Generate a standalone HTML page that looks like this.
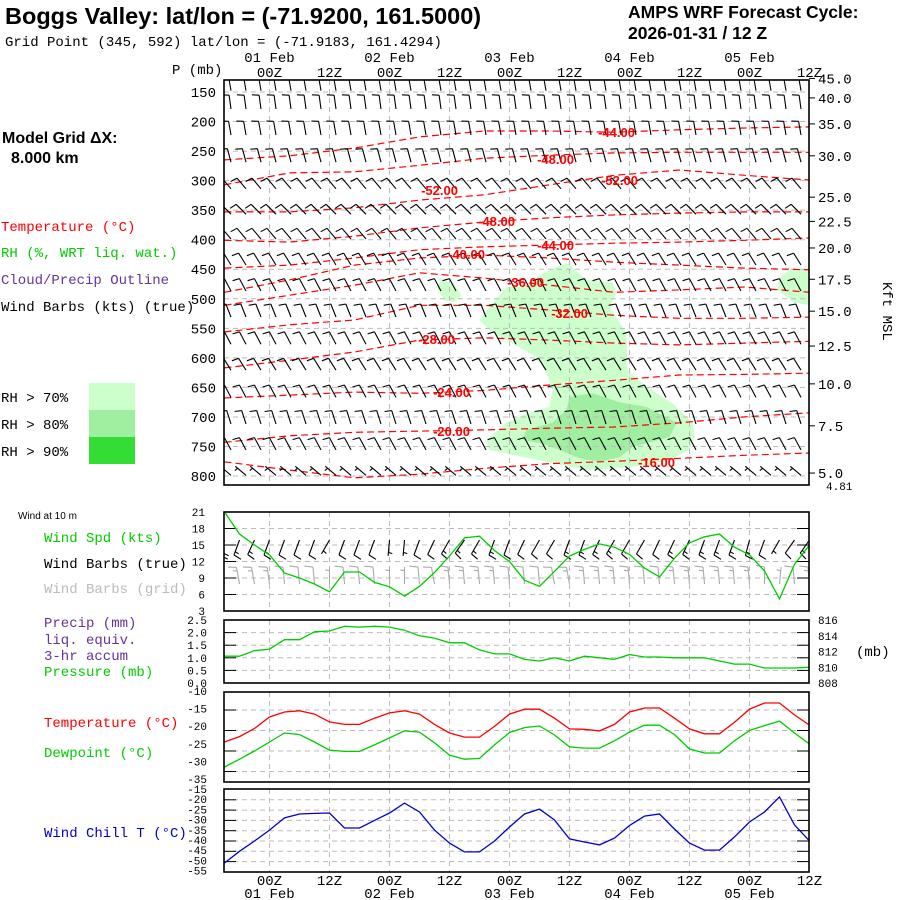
<!DOCTYPE html>
<html><head><meta charset="utf-8"><title>Boggs Valley AMPS WRF forecast meteogram</title>
<style>
html,body{margin:0;padding:0;background:#fff;}
svg{display:block;}
.m{font-family:"Liberation Mono","DejaVu Sans Mono",monospace;font-size:14px;}
.s{font-family:"Liberation Mono","DejaVu Sans Mono",monospace;font-size:11px;}
.b{font-family:"Liberation Sans",Arial,sans-serif;font-weight:bold;}
</style></head>
<body>
<svg id="chart" xmlns="http://www.w3.org/2000/svg" width="900" height="900" viewBox="0 0 900 900">
<rect x="0" y="0" width="900" height="900" fill="#fff"/>
<text x="5" y="24" class="b" font-size="23.5">Boggs Valley:  lat/lon = (-71.9200, 161.5000)</text>
<text x="5" y="46" class="m">Grid Point (345, 592) lat/lon = (-71.9183, 161.4294)</text>
<text x="628" y="18" class="b" font-size="17.5">AMPS WRF Forecast Cycle:</text>
<text x="628" y="39" class="b" font-size="17.5">2026-01-31 / 12  Z</text>
<text x="172" y="74" class="m">P (mb)</text>
<text x="2" y="143" class="b" font-size="16">Model Grid ΔX:</text>
<text x="11" y="163" class="b" font-size="16">8.000 km</text>
<text x="1" y="231" class="m" fill="#ff0000">Temperature (°C)</text>
<text x="1" y="257" class="m" fill="#00cc00">RH (%, WRT liq. wat.)</text>
<text x="1" y="284" class="m" fill="#663399">Cloud/Precip Outline</text>
<text x="1" y="311" class="m" fill="#000">Wind Barbs (kts) (true)</text>
<text x="1" y="402" class="m">RH &gt; 70%</text>
<text x="1" y="429" class="m">RH &gt; 80%</text>
<text x="1" y="456" class="m">RH &gt; 90%</text>
<rect x="89" y="383" width="46" height="27" fill="#ccffcc"/>
<rect x="89" y="410" width="46" height="27" fill="#a0eea0"/>
<rect x="89" y="437" width="46" height="27" fill="#33dd33"/>
<text x="18" y="519" font-family="Liberation Sans,sans-serif" font-size="10">Wind at 10 m</text>
<text x="44" y="542" class="m" fill="#00cc00">Wind Spd (kts)</text>
<text x="44" y="568" class="m">Wind Barbs (true)</text>
<text x="44" y="593" class="m" fill="#bbbbbb">Wind Barbs (grid)</text>
<text x="44" y="627" class="m" fill="#663399">Precip (mm)</text>
<text x="44" y="644" class="m" fill="#663399">liq. equiv.</text>
<text x="44" y="660" class="m" fill="#663399">3-hr accum</text>
<text x="44" y="676" class="m" fill="#00cc00">Pressure (mb)</text>
<text x="856" y="656" class="m">(mb)</text>
<text x="44" y="727" class="m" fill="#ff0000">Temperature (°C)</text>
<text x="44" y="757" class="m" fill="#00cc00">Dewpoint (°C)</text>
<text x="44" y="837" class="m" fill="#0000cc">Wind Chill T (°C)</text>
<text x="883" y="282" class="m" font-size="12" transform="rotate(90 883 282)">Kft MSL</text>
<defs><clipPath id="mainclip"><rect x="224" y="80" width="585" height="405"/></clipPath>
<clipPath id="lowclip"><rect x="224" y="500" width="585" height="390"/></clipPath></defs>
<g id="layer"></g>
</svg>
<script>
// ---------- data ----------
const hours = [0,3,6,9,12,15,18,21,24,27,30,33,36,39,42,45,48,51,54,57,60,63,66,69,72,75,78,81,84,87,90,93,96,99,102,105,108,111,114,117];
const windSpd = [21,17,15,13.2,9.9,9.0,7.9,6.5,10.1,10.1,8.2,7.4,5.7,7.5,10,13,16.3,16.6,14,12,8.6,7.5,10.2,13,14.2,15.2,14.6,13.3,10.8,9.2,12.6,15.4,16.5,17,14.6,13.2,10.3,5.2,11.5,15];
const sfcPres = [811.4,811.4,812.1,812.3,813.5,813.5,814.5,814.6,815.2,815.1,815.2,815.1,814.7,814,813.7,813.1,813.1,812.2,811.7,811.7,811,810.8,811.2,810.8,811.4,811.2,811,811.6,811.3,811.3,811.2,811.2,811.2,810.8,810.4,810.4,809.9,809.9,809.9,810];
const sfcTemp = [-22.8,-21.5,-19.5,-16.7,-15.5,-15.2,-16,-17.9,-18.5,-18.5,-17,-15.7,-15.2,-16,-18.5,-20.6,-21.6,-21.6,-19,-16,-14.8,-14.8,-17,-19.6,-19.7,-20.1,-18.5,-15.5,-14.5,-14.5,-17,-19.6,-20.8,-20.8,-18,-14.8,-13.3,-13.3,-16.2,-18.7];
const sfcDew = [-28.9,-27,-25,-22.8,-20.6,-21,-22.8,-24.8,-25.1,-25.1,-23.5,-21.8,-20.1,-20.4,-23,-26,-27,-26.8,-23.5,-20.5,-19.3,-18.9,-21.1,-24,-24.3,-24.3,-22.5,-20.4,-18.7,-18.7,-21,-24.5,-25.5,-25.5,-22.5,-20,-18.8,-17.7,-20.6,-23.3];
const windChill = [-50.7,-45,-40,-34.7,-28.8,-26.9,-26.6,-26.4,-33.7,-33.7,-30,-26.4,-21.6,-25.9,-34.7,-41,-45.3,-45.3,-40,-33.2,-26.9,-24.5,-29.8,-39,-40.5,-41.9,-38.6,-32.5,-27.9,-26.9,-34.2,-41,-44.4,-44.4,-38,-30.8,-25.9,-18.6,-32.2,-40];
const sfcDirTrue = [195,200,205,200,200,200,200,210,200,200,200,185,185,200,205,210,215,210,200,200,205,210,210,200,200,205,210,210,210,205,205,205,200,200,200,195,200,210,215,215];
const sfcDirGrid = [355,350,350,352,355,355,355,0,355,355,355,0,0,355,350,355,355,355,355,355,355,355,350,350,355,355,355,355,355,355,355,355,355,355,355,355,0,5,355,355];

const pTicks = [150,200,250,300,350,400,450,500,550,600,650,700,750,800];
const kftLabels = ["45.0","40.0","35.0","30.0","25.0","22.5","20.0","17.5","15.0","12.5","10.0","7.5","5.0"];
const kftPres = [127,160,204,258,328,369,414,467,521,580,644,715,795];
const dayLabels = ["01 Feb","02 Feb","03 Feb","04 Feb","05 Feb"];
const dayHours = [9,33,57,81,105];
const zHours = [9,21,33,45,57,69,81,93,105,117];
const zLabels = ["00Z","12Z","00Z","12Z","00Z","12Z","00Z","12Z","00Z","12Z"];

const isoHours = [0,13,26,39,52,65,78,91,104,117];
const isoA = [265,258,245,226,216,216,218,214,211,209];
const isoB = [307,287,285,274,262,257,253,252,252,252];
const isoC = [353,353,346,333,324,307,291,282,291,299];
const isoD = [401,404,394,380,370,363,358,355,353,353];
const isoE = [448,443,431,417,412,409,406,404,401,397];
const isoF = [489,468,443,431,426,431,438,443,448,451];
const isoG = [511,494,477,456,465,477,489,485,480,489];
const isoH = [556,544,536,511,511,519,528,533,533,531];
const isoI = [617,604,590,570,566,570,575,578,575,572];
const isoJ = [668,663,658,660,655,646,638,629,628,626];
const isoK = [743,732,726,724,722,719,717,710,700,693];
const isoL = [776,790,803,797,787,779,775,770,765,761];
const isotherms = [isoA,isoB,isoC,isoD,isoE,isoF,isoG,isoH,isoI,isoJ,isoK,isoL];

const isoLabelText = ["-44.00","-48.00","-52.00","-52.00","-48.00","-44.00","-40.00","-36.00","-32.00","-28.00","-24.00","-20.00","-16.00"];
const isoLabelHour = [78.4,66.2,43,79,54.4,66.2,48.4,60.2,69,42.4,45.4,45.4,86.4];
const isoLabelPres = [218,263,316,299,368,409,424,472,524,568,658,724,776];

const rh70Hours = [68.6,72.4,77.6,78.4,77,80.4,80.6,84.4,89.6,93.6,94,93,89,81,72.4,61,53,52.4,56.4,59.6,65,65.6,64.4,62.4,57.6,53.6,51,53,56.4,60.4,62.4,66.4];
const rh70Pres = [440,468,473,490,514,558,621,649,677,710,734,756,773,785,790,770,756,739,710,697,683,655,626,599,575,558,536,514,480,480,463,446];
const rh70bHours = [43,46,47.4,46,44,42.6];
const rh70bPres = [465,477,494,506,502,485];
const rh70cHours = [113,117.5,117.5,114,110.6,111];
const rh70cPres = [451,448,511,507,485,465];
const rh80Hours = [69,73.6,79,84.4,90.4,89,81.6,79,75,71,67,63,59.6,60.4,65.6,68.4];
const rh80Pres = [666,660,675,683,710,734,751,768,776,770,756,744,739,722,710,688];

const barbLevels = [136,167,211,257,302,345,387,431,475,519,565,609,655,700,744,787];
const barbDir = [350,352,350,345,320,315,320,328,332,338,332,328,332,342,332,310];
const barbSpd = [10,10,10,12,12,12,12,12,10,10,10,10,10,10,8,5];

const windTicks = [21,18,15,12,9,6,3];
const precipTicks = ["2.5","2.0","1.5","1.0","0.5","0.0"];
const presTicks = [816,814,812,810,808];
const tempTicks = [-10,-15,-20,-25,-30,-35];
const chillTicks = [-15,-20,-25,-30,-35,-40,-45,-50,-55];

// ---------- scales ----------
const xH = h => 224.5 + h*5;
const yP = p => 92 + (p-150)*0.5908;
const yW = v => 512 + (21-v)*5.5;
const yPr = p => 683 - (p-808)*7.875;
const yT = t => 710 + (-15-t)*4.1;
const yC = w => 789.5 + (-15-w)*2.06;

const NS = 'http://www.w3.org/2000/svg';
const root = document.getElementById('layer');
function mk(tag, attrs, parent){
  const e = document.createElementNS(NS, tag);
  for (const k in attrs) e.setAttribute(k, attrs[k]);
  (parent || root).appendChild(e);
  return e;
}
function txt(x,y,s,cls,anchor,fill,parent){
  const t = mk('text',{x:x,y:y,class:cls,'text-anchor':anchor||'start',fill:fill||'#000'},parent);
  t.textContent = s;
  return t;
}

const panels = [[80,485],[512,611],[620,683],[692,782],[789,872]];
const gMain = mk('g',{'clip-path':'url(#mainclip)'});



function poly(hs, ps, fill, name){
  const pts = hs.map((h,i)=> xH(h).toFixed(1)+','+yP(ps[i]).toFixed(1)).join(' ');
  const el = mk('polygon',{points:pts,fill:fill,stroke:'none'},gMain);
  
  
}
poly(rh70Hours, rh70Pres, '#ccffcc', 'rh-70-region');
poly(rh70bHours, rh70bPres, '#ccffcc', 'rh-70-region-small');
poly(rh70cHours, rh70cPres, '#ccffcc', 'rh-70-region-right');
poly(rh80Hours, rh80Pres, '#a0eea0', 'rh-80-region');

zHours.forEach(h=>{
  if (h>=117) return;
  const l = mk('line',{x1:xH(h),x2:xH(h),y1:80,y2:485,stroke:'#bbb','stroke-dasharray':'5 4'},gMain);
  
  
});
pTicks.forEach(p=>{
  const l = mk('line',{x1:224,x2:809,y1:yP(p),y2:yP(p),stroke:'#bbb','stroke-dasharray':'5 4'},gMain);
  
  
});

isotherms.forEach(arr=>{
  const d = arr.map((p,i)=> (i?'L':'M')+xH(isoHours[i]).toFixed(1)+' '+yP(p).toFixed(1)).join(' ');
  const el = mk('path',{d:d,fill:'none',stroke:'#ff0000','stroke-width':1.2,'stroke-dasharray':'7 4'},gMain);
  
  
});

function barb(g,x,y,dir,spd,L,color,name){
  const r = dir*Math.PI/180;
  const ux = Math.sin(r), uy = -Math.cos(r);
  const px = -uy, py = ux;
  const lx = -px, ly = -py;
  const tx = x+ux*L, ty = y+uy*L;
  let d = 'M'+x.toFixed(1)+' '+y.toFixed(1)+'L'+tx.toFixed(1)+' '+ty.toFixed(1);
  let s = Math.round(spd/5)*5, pos = 0;
  const bl = L*0.5;
  while (s >= 10){
    const bx = tx-ux*pos, by = ty-uy*pos;
    d += 'M'+bx.toFixed(1)+' '+by.toFixed(1)+'L'+(bx+lx*bl+ux*bl*0.2).toFixed(1)+' '+(by+ly*bl+uy*bl*0.2).toFixed(1);
    s -= 10; pos += L*0.22;
  }
  if (s >= 5){
    if (pos===0) pos = L*0.22;
    const bx = tx-ux*pos, by = ty-uy*pos;
    d += 'M'+bx.toFixed(1)+' '+by.toFixed(1)+'L'+(bx+lx*bl*0.5+ux*bl*0.1).toFixed(1)+' '+(by+ly*bl*0.5+uy*bl*0.1).toFixed(1);
  }
  const el = mk('path',{d:d,fill:'none',stroke:color,'stroke-width':1.1},g);
  
  
}
barbLevels.forEach((p,i)=>{
  for (let j=0;j<39;j++){
    barb(gMain, 231+15*j, yP(p)+7, barbDir[i], barbSpd[i], 14, '#000', 'upper-wind-barb');
  }
});

isoLabelText.forEach((s,i)=>{
  const t = txt(xH(isoLabelHour[i]), yP(isoLabelPres[i])+5, s, 'b', 'middle', '#ff0000', gMain);
  t.setAttribute('font-size','13');
  
  
});

const gLow = mk('g',{'clip-path':'url(#lowclip)'});


[[512,611],[620,683],[692,782],[789,872]].forEach(r=>{
  zHours.forEach(h=>{
    if (h>=117) return;
    const l = mk('line',{x1:xH(h),x2:xH(h),y1:r[0],y2:r[1],stroke:'#bbb','stroke-dasharray':'5 4'},gLow);
    
    
  });
});
function hgrid(ys){
  ys.forEach(y=>{
    const l = mk('line',{x1:224,x2:809,y1:y,y2:y,stroke:'#bbb','stroke-dasharray':'5 4'},gLow);
    
    
    const t1 = mk('line',{x1:224,x2:236,y1:y,y2:y,stroke:'#000'},gLow);
    
    
    const t2 = mk('line',{x1:797,x2:809,y1:y,y2:y,stroke:'#000'},gLow);
    
    
  });
}
hgrid([18,15,12,9,6].map(yW));
hgrid([2.0,1.5,1.0,0.5].map(v=>683-v*25.2));
hgrid([-15,-20,-25,-30].map(yT));
hgrid([-20,-25,-30,-35,-40,-45,-50].map(yC));

hours.forEach((h,i)=>{
  barb(gLow, xH(h), 540, sfcDirTrue[i], windSpd[i], 16, '#000', 'sfc-wind-barb-true');
  barb(gLow, xH(h), 584, sfcDirGrid[i], windSpd[i], 17, '#aaaaaa', 'sfc-wind-barb-grid');
});

function series(vals, ys, color, name){
  const pts = vals.map((v,i)=> xH(hours[i]).toFixed(1)+','+ys(v).toFixed(1)).join(' ');
  const el = mk('polyline',{points:pts,fill:'none',stroke:color,'stroke-width':1.3},gLow);
  
  
}
series(windSpd, yW, '#00cc00', 'wind-speed-line');
series(sfcPres, yPr, '#00cc00', 'pressure-line');
series(sfcTemp, yT, '#ff0000', 'temperature-line');
series(sfcDew, yT, '#00cc00', 'dewpoint-line');
series(windChill, yC, '#0000cc', 'wind-chill-line');

panels.forEach(r=>{
  const f = mk('rect',{x:224,y:r[0],width:585,height:r[1]-r[0],fill:'none',stroke:'#000','stroke-width':1.6});
  
  
});

pTicks.forEach(p=>{
  const t = txt(216, yP(p)+5, String(p), 'm', 'end');
  
  
});
kftLabels.forEach((s,i)=>{
  const y = yP(kftPres[i]);
  const t = txt(818, y+5, s, 'm', 'start');
  
  
  const tk = mk('line',{x1:809,x2:815,y1:y,y2:y,stroke:'#000'});
  
  
});
const t481 = txt(826, 490, '4.81', 's', 'start');


dayLabels.forEach((s,i)=>{
  const a = txt(xH(dayHours[i]), 62, s, 'm', 'middle');
  
  
  const b = txt(xH(dayHours[i]), 898, s, 'm', 'middle');
  
  
});
zLabels.forEach((s,i)=>{
  const a = txt(xH(zHours[i]), 77, s, 'm', 'middle');
  
  
  const b = txt(xH(zHours[i]), 885, s, 'm', 'middle');
  
  
});

windTicks.forEach(v=>{
  const t = txt(205, yW(v)+4, String(v), 's', 'end');
  
  
});
precipTicks.forEach((s,i)=>{
  const t = txt(207, 624+i*12.6, s, 's', 'end');
  
  
});
presTicks.forEach(p=>{
  const t = txt(818, yPr(p)+4, String(p), 's', 'start');
  
  
});
tempTicks.forEach((v,i)=>{
  const t = txt(207, 695+i*17.6, String(v), 's', 'end');
  
  
});
chillTicks.forEach((v,i)=>{
  const t = txt(207, 793+i*10.2, String(v), 's', 'end');
  
  
});
</script>
</body></html>
